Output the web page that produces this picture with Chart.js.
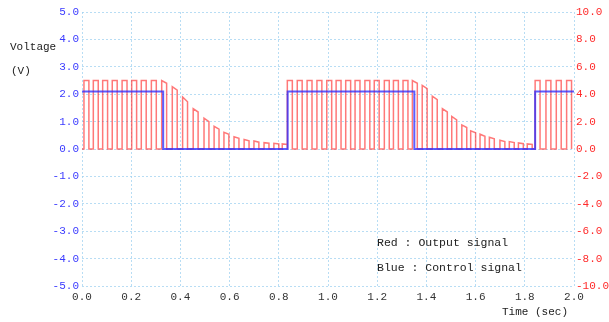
<!DOCTYPE html>
<html>
<head>
<meta charset="utf-8">
<script src="https://cdn.jsdelivr.net/npm/chart.js@4"></script>
<style>
  html,body{margin:0;padding:0;background:#fff;}
  #wrap{width:609px;height:322px;position:relative;}
</style>
</head>
<body>
<div id="wrap"><canvas id="c" width="609" height="322"></canvas></div>
<script>
// ---- data ----
const xTicks = [0.0,0.2,0.4,0.6,0.8,1.0,1.2,1.4,1.6,1.8,2.0];
const leftTicks = [-5,-4,-3,-2,-1,0,1,2,3,4,5];
const rightTicks = [-10,-8,-6,-4,-2,0,2,4,6,8,10];

// Control signal (blue, left axis): switching times and levels
const controlTimes  = [0.000, 0.330, 0.836, 1.351, 1.842, 2.000];
const controlLevels = [2.1, 0.0, 2.1, 0.0, 2.1];

// Output signal (red, right axis): PWM pulses
const pulseStart = [
  0.008,0.046,0.084,0.123,0.163,0.202,0.241,0.282,0.324,
  0.367,0.409,0.452,0.496,0.537,0.577,0.618,0.659,0.699,0.740,0.780,0.814,
  0.835,0.875,0.915,0.955,0.995,1.033,1.072,1.110,1.150,1.188,1.229,1.266,1.305,1.343,
  1.383,1.424,1.465,1.503,1.544,1.580,1.618,1.656,1.699,1.737,1.774,1.810,
  1.842,1.886,1.928,1.970
];
const pulseTopStart = [
  5.0,5.0,5.0,5.0,5.0,5.0,5.0,5.0,5.0,
  4.55,3.80,2.95,2.25,1.65,1.22,0.90,0.70,0.58,0.46,0.42,0.37,
  5.0,5.0,5.0,5.0,5.0,5.0,5.0,5.0,5.0,5.0,5.0,5.0,5.0,5.0,
  4.64,3.86,2.95,2.38,1.76,1.32,1.08,0.86,0.64,0.54,0.44,0.37,
  5.0,5.0,5.0,5.0
];
const pulseTopEnd = [
  5.0,5.0,5.0,5.0,5.0,5.0,5.0,5.0,4.8,
  4.30,3.45,2.70,2.00,1.45,1.08,0.78,0.60,0.50,0.42,0.37,0.34,
  5.0,5.0,5.0,5.0,5.0,5.0,5.0,5.0,5.0,5.0,5.0,5.0,5.0,4.8,
  4.40,3.60,2.70,2.13,1.57,1.18,0.93,0.74,0.54,0.47,0.39,0.34,
  5.0,5.0,5.0,5.0
];
const pulseWidth = 0.020;

// ---- build line data from the arrays ----
const blueData = [];
for (let i = 0; i < controlLevels.length; i++) {
  blueData.push({x: controlTimes[i], y: controlLevels[i]});
  blueData.push({x: controlTimes[i+1], y: controlLevels[i]});
}
const redData = [{x: 0, y: 0}];
for (let i = 0; i < pulseStart.length; i++) {
  const t = pulseStart[i];
  redData.push({x: t, y: 0});
  redData.push({x: t, y: pulseTopStart[i]});
  redData.push({x: t + pulseWidth, y: pulseTopEnd[i]});
  redData.push({x: t + pulseWidth, y: 0});
}

const FONT = "'Liberation Mono', 'DejaVu Sans Mono', monospace";
const gridColor = 'rgba(160,210,240,0.75)';

const textPlugin = {
  id: 'texts',
  afterDraw(chart) {
    const ctx = chart.ctx;
    ctx.save();
    ctx.fillStyle = '#222';
    ctx.textBaseline = 'middle';
    ctx.textAlign = 'left';
    ctx.font = "11px " + FONT;
    ctx.fillText('Voltage', 10, 47);
    ctx.fillText('(V)', 11, 71);
    ctx.fillText('Time (sec)', 502, 312);
    ctx.font = "11.5px " + FONT;
    ctx.fillText('Red : Output signal', 377, 243);
    ctx.fillText('Blue : Control signal', 377, 268);
    ctx.restore();
  }
};

new Chart(document.getElementById('c'), {
  type: 'line',
  data: {
    datasets: [
      {
        label: 'Control signal',
        data: blueData,
        yAxisID: 'y',
        borderColor: 'rgba(40,40,255,0.75)',
        borderWidth: 2,
        pointRadius: 0,
        tension: 0,
        fill: false
      },
      {
        label: 'Output signal',
        data: redData,
        yAxisID: 'y2',
        borderColor: 'rgba(255,30,30,0.6)',
        borderWidth: 1.5,
        pointRadius: 0,
        tension: 0,
        fill: false
      }
    ]
  },
  options: {
    responsive: false,
    animation: false,
    layout: { padding: { top: 12, left: 0, right: 0, bottom: 0 } },
    plugins: { legend: { display: false }, tooltip: { enabled: false } },
    scales: {
      x: {
        type: 'linear',
        min: 0, max: 2,
        afterBuildTicks: s => { s.ticks = xTicks.map(v => ({value: v})); },
        afterFit: s => { s.height = 36; },
        ticks: {
          callback: v => Number(v).toFixed(1),
          color: '#333',
          font: { family: FONT, size: 11 },
          padding: 4,
          maxRotation: 0,
          autoSkip: false
        },
        grid: { color: gridColor, drawTicks: false, lineWidth: 1 },
        border: { display: false, dash: [2,2] }
      },
      y: {
        type: 'linear',
        position: 'left',
        min: -5, max: 5,
        afterBuildTicks: s => { s.ticks = leftTicks.map(v => ({value: v})); },
        afterFit: s => { s.width = 82; },
        ticks: {
          callback: v => Number(v).toFixed(1),
          color: '#3a3aff',
          font: { family: FONT, size: 11 },
          padding: 3,
          autoSkip: false
        },
        grid: { color: gridColor, drawTicks: false, lineWidth: 1 },
        border: { display: false, dash: [2,2] }
      },
      y2: {
        type: 'linear',
        position: 'right',
        min: -10, max: 10,
        afterBuildTicks: s => { s.ticks = rightTicks.map(v => ({value: v})); },
        afterFit: s => { s.width = 35; },
        ticks: {
          callback: v => Number(v).toFixed(1),
          color: '#ff2a2a',
          font: { family: FONT, size: 11 },
          padding: 2,
          autoSkip: false
        },
        grid: { display: false, drawTicks: false },
        border: { display: false }
      }
    }
  },
  plugins: [textPlugin]
});
</script>
</body>
</html>
